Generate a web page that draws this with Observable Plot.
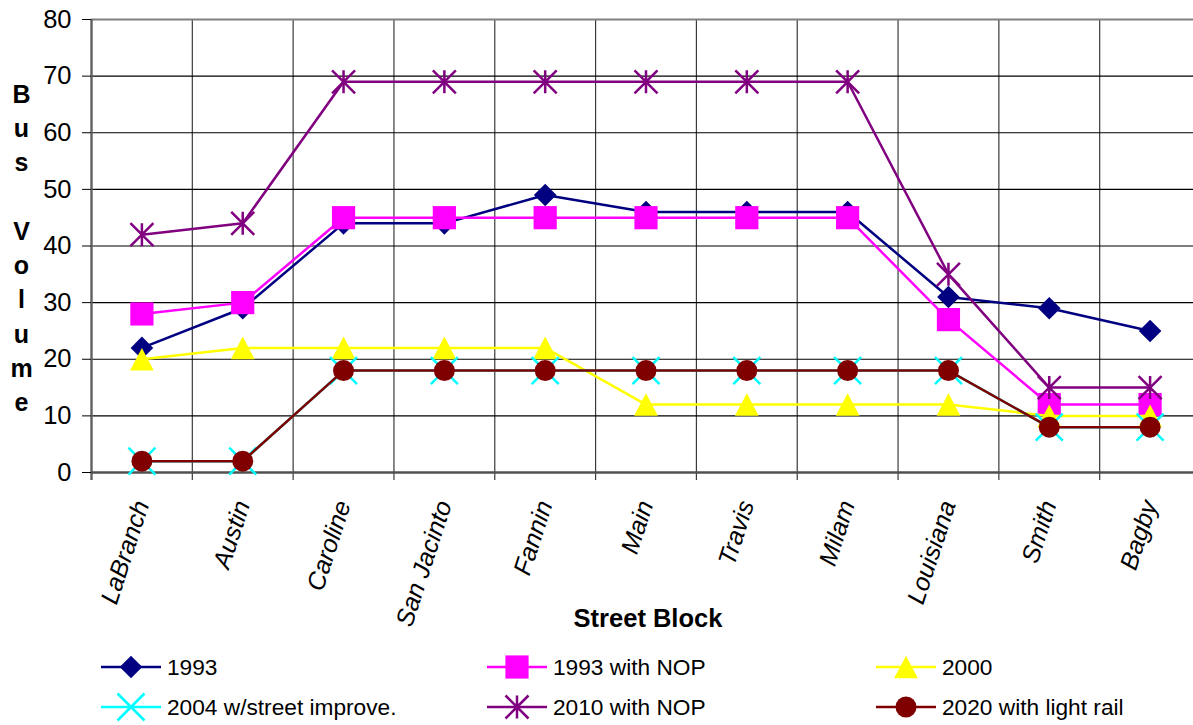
<!DOCTYPE html>
<html><head><meta charset="utf-8">
<script src="https://cdn.jsdelivr.net/npm/d3@7"></script>
<script src="https://cdn.jsdelivr.net/npm/@observablehq/plot@0.6"></script>
<style>
body{margin:0;background:#fff;font-family:"Liberation Sans",Arial,sans-serif;}
#wrap{position:relative;width:1193px;height:725px;overflow:hidden;background:#fff;}
#wrap > svg{position:absolute;left:0;top:0;}
.lg{position:absolute;display:flex;align-items:center;font-size:22.7px;color:#000;white-space:nowrap;line-height:1;}
.lg svg{display:block;margin-right:6px;}
</style></head><body><div id="wrap"></div>
<script>
const streets = ["LaBranch","Austin","Caroline","San Jacinto","Fannin","Main","Travis","Milam","Louisiana","Smith","Bagby"];
const s1993      = [22, 29, 44, 44, 49, 46, 46, 46, 31, 29, 25];
const s1993NOP   = [28, 30, 45, 45, 45, 45, 45, 45, 27, 12, 12];
const s2000      = [20, 22, 22, 22, 22, 12, 12, 12, 12, 10, 10];
const s2004      = [2, 2, 18, 18, 18, 18, 18, 18, 18, 8, 8];
const s2010NOP   = [42, 44, 69, 69, 69, 69, 69, 69, 35, 15, 15];
const s2020Rail  = [2, 2, 18, 18, 18, 18, 18, 18, 18, 8, 8];
const seriesNames = ["1993","1993 with NOP","2000","2004 w/street improve.","2010 with NOP","2020 with light rail"];
const yTicks = [0, 10, 20, 30, 40, 50, 60, 70, 80];
const yTitle = "Bus\nVolume";
const xTitle = "Street Block";

const Rof = s => Math.sqrt(s / Math.PI);
const symDiamond = {draw(c,s){const r=Rof(s); c.moveTo(0,-r);c.lineTo(r,0);c.lineTo(0,r);c.lineTo(-r,0);c.closePath();}};
const symSquare = {draw(c,s){const r=Rof(s); c.rect(-r,-r,2*r,2*r);}};
const symTriangle = {draw(c,s){const r=Rof(s); c.moveTo(0,-r);c.lineTo(r*1.05,r);c.lineTo(-r*1.05,r);c.closePath();}};
const symX = {draw(c,s){const r=Rof(s); c.moveTo(-r,-r);c.lineTo(r,r);c.moveTo(-r,r);c.lineTo(r,-r);}};
const symStar = {draw(c,s){const r=Rof(s); c.moveTo(-r,-r);c.lineTo(r,r);c.moveTo(-r,r);c.lineTo(r,-r);c.moveTo(0,-r);c.lineTo(0,r);}};
const symCircle = {draw(c,s){const r=Rof(s); c.moveTo(r,0); c.arc(0,0,r,0,2*Math.PI);}};

const seriesValues = [s1993, s1993NOP, s2000, s2004, s2010NOP, s2020Rail];
const styles = [
  {color:"#000080", sym:symDiamond, r:11.3, filled:true},
  {color:"#FF00FF", sym:symSquare, r:11.6, filled:true},
  {color:"#FFFF00", sym:symTriangle, r:11.3, filled:true},
  {color:"#00FFFF", sym:symX, r:13.5, filled:false},
  {color:"#800080", sym:symStar, r:11.5, filled:false},
  {color:"#800000", sym:symCircle, r:10.5, filled:true}
];

const W = 1193, H = 645;
const xRange = [91, 1200];
const step = (xRange[1]-xRange[0]) / streets.length;
const font = "Liberation Sans, Arial, sans-serif";

const marks = [];
// vertical grid lines (band boundaries) with ticks below axis
marks.push(Plot.ruleX(streets.slice(1), {x: d => d, dx: -step/2, stroke: "#3a3a3a", strokeWidth: 1.2, insetBottom: -8}));
// horizontal grid lines
marks.push(Plot.ruleY(yTicks.filter(d => d > yTicks[0] && d < yTicks[yTicks.length-1]), {y: d => d, stroke: "#000", strokeWidth: 1.1}));
marks.push(Plot.ruleY([yTicks[yTicks.length-1]], {y: d => d, stroke: "#808080", strokeWidth: 2.2}));
// left axis line
marks.push(Plot.ruleX([streets[0]], {x: d => d, dx: -step/2, stroke: "#606060", strokeWidth: 2.4, insetBottom: -8}));
// bottom axis line
marks.push(Plot.ruleY([yTicks[0]], {y: d => d, stroke: "#505050", strokeWidth: 2.4}));
marks.push(Plot.axisY(yTicks, {tickSize: 9, tickPadding: 11, fontSize: 25.5, fontFamily: font, stroke: "#000", label: null, color: "#000"}));

seriesValues.forEach((vals, k) => {
  const data = streets.map((s, i) => ({street: s, value: vals[i]}));
  const st = styles[k];
  marks.push(Plot.line(data, {x: "street", y: "value", stroke: st.color, strokeWidth: 2.5}));
  marks.push(Plot.dot(data, st.filled
    ? {x: "street", y: "value", symbol: () => st.sym, r: st.r, fill: st.color, stroke: "none"}
    : {x: "street", y: "value", symbol: () => st.sym, r: st.r, fill: "none", stroke: st.color, strokeWidth: 2.5}));
});

// category labels
marks.push(Plot.text(streets, {x: d => d, frameAnchor: "bottom", dy: 29, rotate: -72, textAnchor: "end", lineAnchor: "middle", fontSize: 25, fontStyle: "italic", fontFamily: font, fill: "#000"}));
// y title (stacked letters)
marks.push(Plot.text([yTitle.split("").join("\n").replace("\n\n\n", "\n\n")], {frameAnchor: "left", dx: -70, textAnchor: "middle", lineAnchor: "middle", lineHeight: 1.37, fontSize: 25, fontWeight: "bold", fontFamily: font, fill: "#000"}));
// x title
marks.push(Plot.text([xTitle], {frameAnchor: "bottom", dx: 5.5, dy: 146, textAnchor: "middle", lineAnchor: "middle", fontSize: 25.5, fontWeight: "bold", fontFamily: font, fill: "#000"}));

const chart = Plot.plot({
  width: W, height: H,
  marginLeft: 91, marginRight: 0, marginTop: 19, marginBottom: H - 472,
  style: {background: "#fff", fontFamily: font, overflow: "visible"},
  x: {type: "point", domain: streets, range: xRange, padding: 0.5, round: false, axis: null},
  y: {domain: [yTicks[0], yTicks[yTicks.length-1]], range: [472, 19], axis: null},
  marks
});
const wrap = document.getElementById("wrap");
wrap.appendChild(chart);

// legend
const cols = [101, 487, 876], rows = [667, 707];
seriesNames.forEach((name, k) => {
  const st = styles[k];
  const div = document.createElement("div");
  div.className = "lg";
  div.style.left = cols[k % 3] + "px";
  div.style.top = (rows[Math.floor(k / 3)] - 15) + "px";
  div.style.height = "30px";
  const svg = d3.create("svg").attr("width", 60).attr("height", 30);
  svg.append("line").attr("x1", 0).attr("x2", 60).attr("y1", 15).attr("y2", 15).attr("stroke", st.color).attr("stroke-width", 2.5);
  svg.append("path").attr("transform", "translate(30,15)")
    .attr("d", d3.symbol(st.sym, st.r * st.r * Math.PI)())
    .attr("fill", st.filled ? st.color : "none")
    .attr("stroke", st.filled ? "none" : st.color)
    .attr("stroke-width", 2.5);
  div.appendChild(svg.node());
  const span = document.createElement("span");
  span.textContent = name;
  div.appendChild(span);
  wrap.appendChild(div);
});
</script></body></html>
